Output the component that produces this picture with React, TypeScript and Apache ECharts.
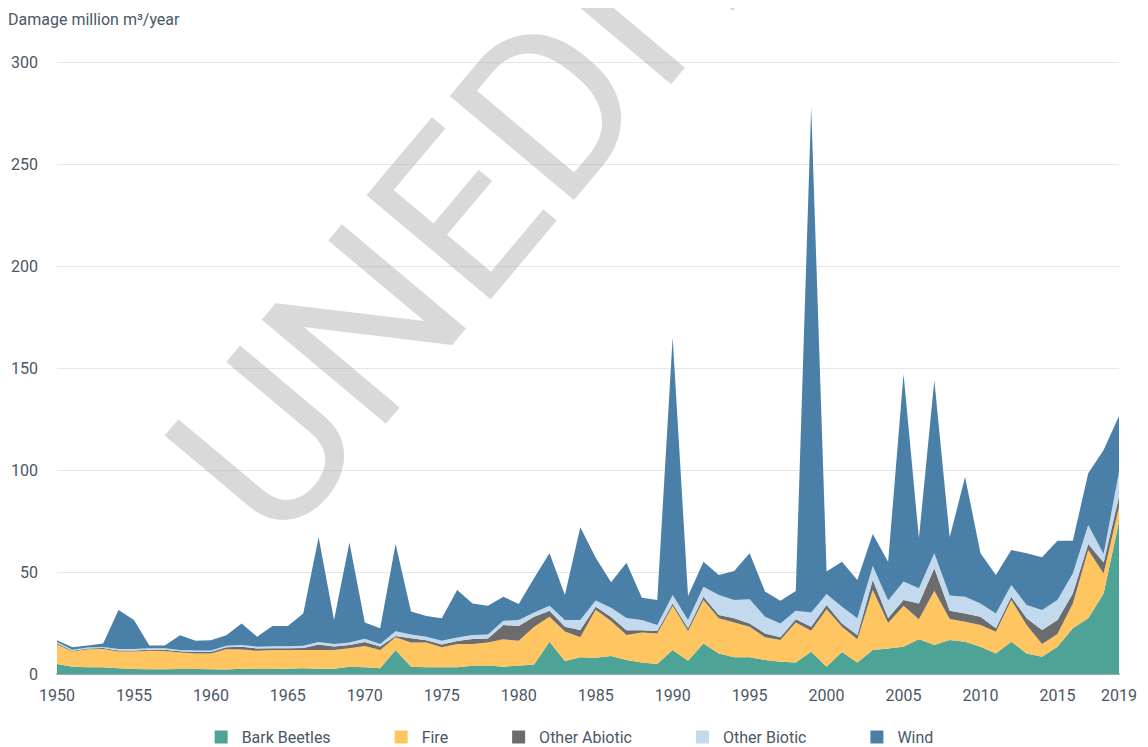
import React, { useEffect, useRef } from "react";
import * as echarts from "echarts";

const years: string[] = [];
for (let y = 1950; y <= 2019; y++) years.push(String(y));

const barkBeetles = [
  4.9, 3.6, 3.3, 3.3, 2.8, 2.5, 2.3, 2.3, 2.5, 2.5,
  2.3, 2.2, 2.6, 2.5, 2.5, 2.6, 2.8, 2.6, 2.6, 3.6,
  3.3, 2.8, 11.8, 3.6, 3.3, 3.3, 3.3, 4.1, 4.2, 3.6,
  4.1, 4.7, 15.8, 6.4, 8.2, 8, 8.8, 6.9, 5.6, 4.9,
  11.8, 6.5, 15, 10.1, 8.2, 8.2, 6.9, 6, 5.6, 10.9,
  3.6, 10.8, 5.6, 11.8, 12.5, 13.4, 17, 14.2, 16.7, 15.8,
  13.4, 10.1, 15.8, 10.1, 8.5, 13.4, 22.4, 27.3, 39.5, 74.7,
];
const fire = [
  9.6, 7.4, 8.8, 9.0, 8.2, 8.5, 9.1, 9.0, 8.0, 7.6,
  7.7, 9.9, 9.4, 8.9, 9.3, 9.2, 9.0, 9.2, 9.2, 9.0,
  10.4, 9.0, 6.2, 11.9, 12.1, 9.8, 11.4, 10.6, 11.2, 13.4,
  12.2, 18.5, 12.3, 14.4, 9.8, 23.5, 17.2, 12.2, 14.7, 15,
  21.7, 14.6, 21.3, 17.2, 17, 15, 11.1, 10.7, 19.6, 10.3,
  28.1, 12.4, 11.4, 29.4, 12.5, 20.1, 9.8, 26.6, 10.3, 9.8,
  10.6, 10.6, 20.5, 13.9, 6.2, 6.2, 12.2, 33.5, 9.8, 7.3,
];
const otherAbiotic = [
  0.5, 0.4, 0.4, 0.4, 0.5, 0.5, 0.5, 0.6, 0.6, 0.7,
  0.8, 1.0, 1.4, 1.1, 0.8, 0.8, 1.0, 2.7, 1.7, 1.6,
  2.0, 1.7, 0.6, 2.0, 1.1, 1.4, 1.5, 2.5, 2.0, 7.0,
  7.2, 4.9, 2.9, 2.4, 3.6, 1.5, 2, 2.4, 1.2, 1.2,
  1.1, 1.3, 1.6, 1.6, 2.1, 1.5, 1.9, 1.3, 1.6, 2,
  2.1, 1.6, 2.1, 4.9, 2.5, 2.8, 7.8, 11, 4, 4.1,
  4.1, 1.7, 1.6, 3.3, 6.9, 6.9, 4.9, 2.9, 5.3, 5,
];
const otherBiotic = [
  0.7, 0.5, 0.5, 0.5, 0.8, 0.7, 0.7, 0.7, 0.7, 0.7,
  0.7, 0.8, 0.8, 0.9, 1.0, 1.0, 1.1, 1.2, 1.2, 1.2,
  1.6, 1.2, 2.3, 1.9, 1.8, 1.8, 1.7, 1.9, 2.0, 2.1,
  3.0, 2.0, 2.5, 3.3, 4.9, 3, 4.5, 5.9, 5, 2.9,
  4.1, 4.1, 4.9, 9.8, 9, 11.9, 8.2, 6.7, 4.2, 6.9,
  5.4, 8.2, 8.2, 6.8, 8.5, 9, 7.4, 7.4, 7.5, 8.2,
  6.5, 7.3, 5.7, 6.5, 9.8, 9.8, 9.8, 9.3, 4.2, 12.2,
];
const wind = [
  0.8, 1.2, 1.0, 1.8, 19.1, 14.3, 1.4, 1.4, 7.2, 4.8,
  5.0, 5.1, 10.6, 4.9, 9.9, 9.9, 15.8, 51.3, 11.8, 49,
  7.9, 7.7, 42.8, 11.2, 10.1, 11, 23.3, 15.5, 14.1, 11.8,
  7.8, 17, 25.7, 12.2, 45.4, 21, 12.5, 27.1, 10.9, 12.3,
  126.3, 11.7, 12.2, 9.8, 14.2, 22.6, 12.3, 11.2, 9.7, 247.9,
  11, 22, 18.8, 15.7, 19, 101.7, 24.5, 84.8, 28.5, 58.7,
  24.6, 18.8, 17.2, 25.4, 25.8, 29, 16, 25.4, 51, 27.3,
];

const seriesNames = ["Bark Beetles", "Fire", "Other Abiotic", "Other Biotic", "Wind"];
const seriesColors = ["#4da396", "#fec561", "#6c6c6c", "#c3d9ed", "#4a7fa7"];
const seriesData = [barkBeetles, fire, otherAbiotic, otherBiotic, wind];

const textColor = "#4a5766";
const fontFamily = "Roboto, 'Noto Sans', sans-serif";

export default function App() {
  const ref = useRef<HTMLDivElement>(null);
  useEffect(() => {
    if (!ref.current) return;
    const chart = echarts.init(ref.current, null, { renderer: "svg" });
    chart.setOption({
      animation: false,
      textStyle: { fontFamily },
      title: {
        text: "Damage million m³/year",
        left: 0,
        top: 3,
        padding: 0,
        textStyle: { fontSize: 16, fontWeight: "normal", color: textColor, fontFamily },
      },
      grid: { left: 47, right: 14, top: 54, bottom: 73 },
      legend: {
        data: seriesNames,
        top: 721,
        left: "center",
        icon: "rect",
        itemWidth: 13,
        itemHeight: 13,
        itemGap: 64,
        padding: 0,
        textStyle: { fontSize: 16, color: textColor, fontFamily, padding: [0, 0, 0, 9] },
      },
      xAxis: {
        type: "category",
        data: years,
        boundaryGap: false,
        axisLine: { lineStyle: { color: "#a8a8a8", width: 2 } },
        axisTick: { show: false },
        axisLabel: {
          interval: (i: number, v: string) => Number(v) % 5 === 0 || v === "2019",
          fontSize: 16,
          color: textColor,
          margin: 13,
          fontFamily,
        },
      },
      yAxis: {
        type: "value",
        min: 0,
        max: 300,
        interval: 50,
        axisLine: { show: false },
        axisTick: { show: false },
        axisLabel: { fontSize: 16, color: textColor, margin: 19, fontFamily },
        splitLine: { lineStyle: { color: "#e6e6e6", width: 1 } },
      },
      graphic: [
        {
          type: "text",
          x: 553,
          y: 86,
          rotation: (50 * Math.PI) / 180,
          z: 100,
          silent: true,
          style: {
            text: "UNEDITED",
            fontSize: 228,
            fontFamily: "Roboto",
            fill: "rgba(170,170,170,0.45)",
            align: "center",
            verticalAlign: "middle",
          },
        },
      ],
      series: seriesNames.map((name, i) => ({
        name,
        type: "line",
        stack: "total",
        data: seriesData[i],
        symbol: "none",
        lineStyle: { width: 0 },
        itemStyle: { color: seriesColors[i] },
        areaStyle: { color: seriesColors[i], opacity: 1 },
      })),
    });
    return () => chart.dispose();
  }, []);
  return <div ref={ref} style={{ width: 1132, height: 739 }} />;
}
